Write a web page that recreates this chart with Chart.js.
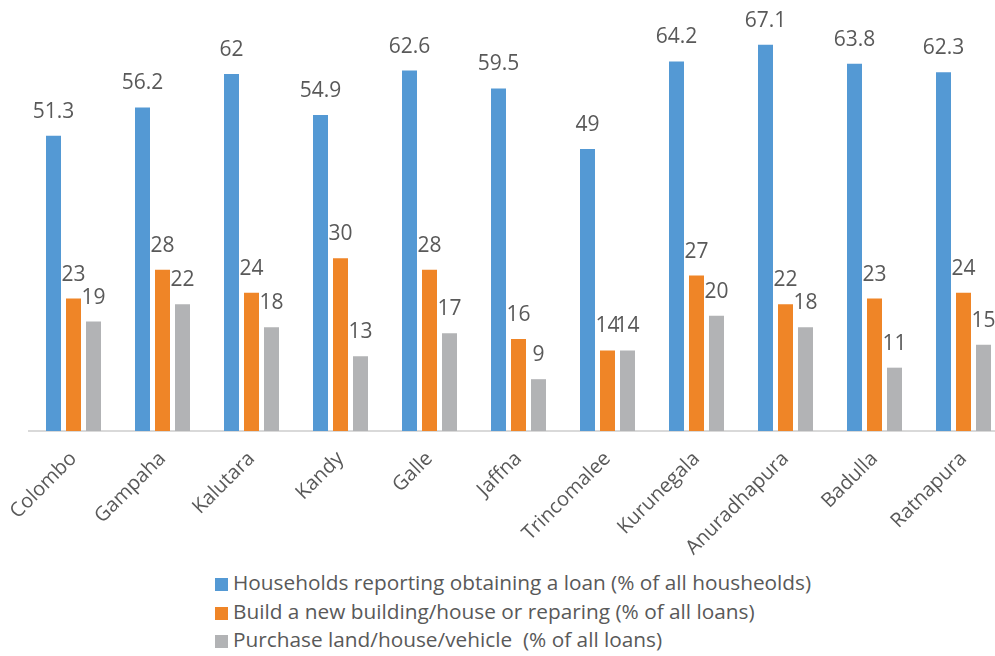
<!DOCTYPE html>
<html>
<head>
<meta charset="utf-8">
<script src="https://cdn.jsdelivr.net/npm/chart.js@4.4.1/dist/chart.umd.min.js"></script>
<style>
  html, body { margin: 0; padding: 0; background: #fff; overflow: hidden; }
  #wrap { position: relative; width: 995px; height: 656px; overflow: hidden; }
  #chart { position: absolute; left: 0; top: 0; }
  #legend { position: absolute; left: 215px; top: 568px; font: 20.8px "Open Sans", sans-serif; color: #595959; }
  #legend div { height: 28.5px; line-height: 28.5px; white-space: pre; }
  #legend span { display: inline-block; width: 13px; height: 13px; margin-right: 5px; vertical-align: -1px; }
</style>
</head>
<body>
<div id="wrap">
  <canvas id="chart" width="1010" height="561"></canvas>
  <div id="legend"></div>
</div>
<script>
const districts = ['Colombo', 'Gampaha', 'Kalutara', 'Kandy', 'Galle', 'Jaffna', 'Trincomalee', 'Kurunegala', 'Anuradhapura', 'Badulla', 'Ratnapura'];
const loanHouseholds = [51.3, 56.2, 62, 54.9, 62.6, 59.5, 49, 64.2, 67.1, 63.8, 62.3];
const buildRepair = [23, 28, 24, 30, 28, 16, 14, 27, 22, 23, 24];
const purchaseLand = [19, 22, 18, 13, 17, 9, 14, 20, 18, 11, 15];
const seriesNames = [
    'Households reporting obtaining a loan (% of all housheolds)',
    'Build a new building/house or reparing (% of all loans)',
    'Purchase land/house/vehicle  (% of all loans)'
];

const textColor = '#595959';
const fontFamily = '"Open Sans", sans-serif';

// value labels above each bar
const barLabels = {
    id: 'barLabels',
    afterDatasetsDraw(chart) {
        const ctx = chart.ctx;
        ctx.save();
        ctx.font = '21px ' + fontFamily;
        ctx.fillStyle = textColor;
        ctx.textAlign = 'center';
        ctx.textBaseline = 'alphabetic';
        chart.data.datasets.forEach((ds, i) => {
            chart.getDatasetMeta(i).data.forEach((bar, j) => {
                ctx.fillText(String(ds.data[j]), bar.x, bar.y - 18);
            });
        });
        ctx.restore();
    }
};

const chart = new Chart(document.getElementById('chart'), {
    type: 'bar',
    data: {
        labels: districts,
        datasets: [
            { label: seriesNames[0], data: loanHouseholds, backgroundColor: '#5499d4' },
            { label: seriesNames[1], data: buildRepair, backgroundColor: '#ef8527' },
            { label: seriesNames[2], data: purchaseLand, backgroundColor: '#b2b3b5' }
        ]
    },
    options: {
        responsive: false,
        animation: false,
        categoryPercentage: 0.674,
        barPercentage: 0.75,
        layout: { padding: { left: 29, right: 2, top: 28, bottom: 0 } },
        plugins: {
            legend: { display: false },
            tooltip: { enabled: false }
        },
        scales: {
            y: { display: false, min: 0, max: 70 },
            x: {
                grid: { display: false },
                border: { display: true, color: '#d9d9d9', width: 2 },
                ticks: {
                    color: textColor,
                    font: { family: fontFamily, size: 20 },
                    minRotation: 45,
                    maxRotation: 45,
                    padding: 8
                },
                afterFit: s => { s.height = 130; }
            }
        }
    },
    plugins: [barLabels]
});

// legend list under the chart
const legendEl = document.getElementById('legend');
chart.data.datasets.forEach(ds => {
    const row = document.createElement('div');
    row.innerHTML = `<span style="background:${ds.backgroundColor}"></span>${ds.label}`;
    legendEl.appendChild(row);
});
</script>
</body>
</html>
